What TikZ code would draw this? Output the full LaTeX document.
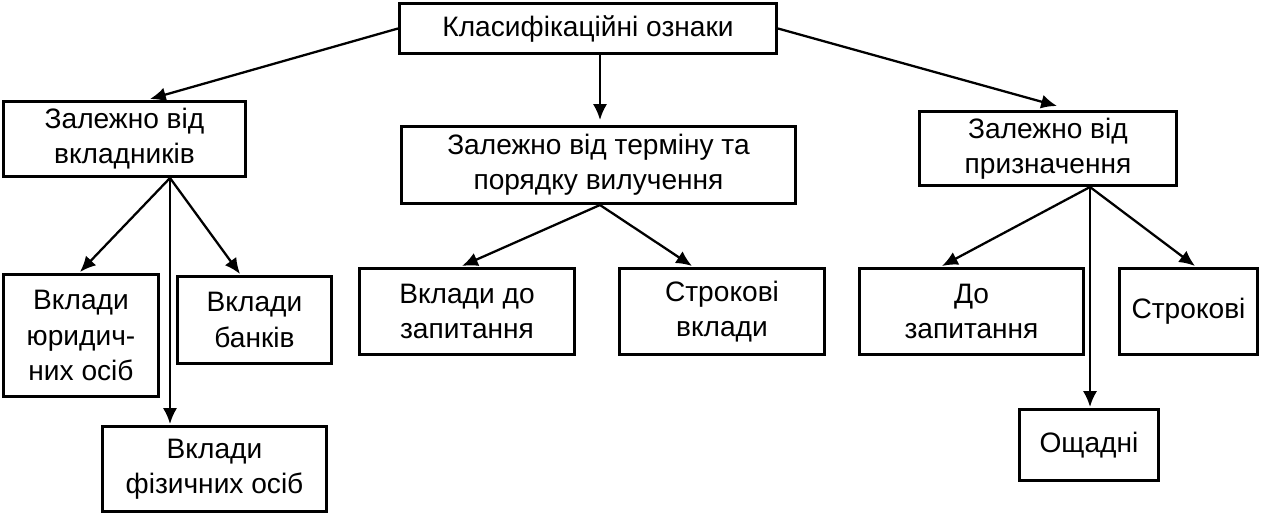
\documentclass[tikz,border=0pt]{standalone}
\usepackage{fontspec}
\usetikzlibrary{arrows.meta}
\setmainfont{Liberation Sans}
\begin{document}
\begin{tikzpicture}[x=0.02cm,y=-0.02cm,
  box/.style={draw,line width=1.6pt,inner sep=0pt,align=center,font=\fontsize{16}{20}\selectfont},
  arr/.style={line width=1.3pt,-{Latex[length=9pt,width=8pt]}}]
\useasboundingbox (0,0) rectangle (1261,517);
\newcommand{\bx}[6]{\node[box,minimum width=#4*0.02cm-1.6pt,minimum height=#5*0.02cm-1.6pt] (#1) at ({(#2+#4/2)},{(#3+#5/2)}) {#6};}
\bx{top}{398}{2}{380}{53}{Класифікаційні ознаки}
\bx{l}{2}{100}{245}{78}{Залежно від\\вкладників}
\bx{m}{400}{125}{397}{80}{Залежно від терміну та\\порядку вилучення}
\bx{r}{918}{110}{260}{77}{Залежно від\\призначення}
\bx{l1}{2}{273}{158}{125}{Вклади\\юридич-\\них осіб}
\bx{l2}{176}{275}{157}{90}{Вклади\\банків}
\bx{l3}{101}{425}{227}{88}{Вклади\\фізичних осіб}
\bx{m1}{358}{267}{218}{89}{Вклади до\\запитання}
\bx{m2}{618}{267}{208}{89}{Строкові\\вклади}
\bx{r1}{858}{267}{227}{89}{До\\запитання}
\bx{r2}{1118}{267}{141}{89}{Строкові}
\bx{r3}{1018}{408}{142}{74}{Ощадні}
\coordinate (ts) at (600,55);
\draw[arr] (top.west) -- (150,99);
\draw[arr] (ts) -- (600,120);
\draw[arr] (top.east) -- (1057,106);
\draw[arr] (170,178) -- (80,272);
\draw[arr] (170,178) -- (170,424);
\draw[arr] (170,178) -- (240,274);
\draw[arr] (600,205) -- (462,266);
\draw[arr] (600,205) -- (692,266);
\draw[arr] (1090,187) -- (942,266);
\draw[arr] (1090,187) -- (1090,407);
\draw[arr] (1090,187) -- (1195,266);
\end{tikzpicture}
\end{document}
